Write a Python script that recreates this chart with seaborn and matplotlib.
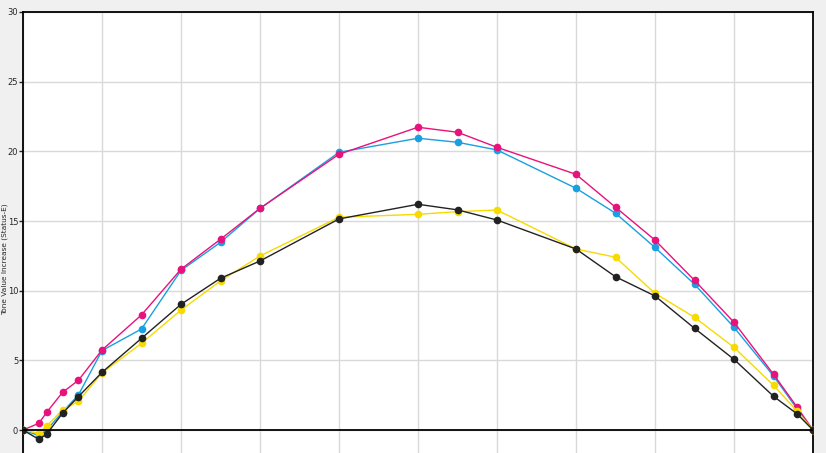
import pandas as pd
import seaborn as sns
import matplotlib.pyplot as plt

# Tone value (%) e aumento medido para cada canal
tone_values = [0, 2, 3, 5, 7, 10, 15, 20, 25, 30, 40, 50, 55, 60, 70, 75, 80, 85, 90, 95, 98, 100]

cyan = [0, -0.4, 0.0, 1.3, 2.5, 5.7, 7.25, 11.45, 13.47, 15.9, 19.93, 20.94, 20.65, 20.1,
        17.35, 15.56, 13.1, 10.46, 7.37, 3.88, 1.5, 0]
magenta = [0, 0.48, 1.27, 2.7, 3.56, 5.74, 8.26, 11.54, 13.69, 15.91, 19.79, 21.73, 21.37, 20.29,
           18.35, 15.99, 13.63, 10.74, 7.73, 4.0, 1.63, 0]
yellow = [0, -0.24, 0.29, 1.44, 2.05, 4.1, 6.22, 8.61, 10.7, 12.49, 15.27, 15.48, 15.67, 15.79,
          12.99, 12.4, 9.81, 8.09, 5.93, 3.21, 1.35, 0]
black = [0, -0.67, -0.29, 1.2, 2.39, 4.14, 6.58, 9.02, 10.89, 12.13, 15.15, 16.2, 15.8, 15.07,
         12.99, 11.0, 9.62, 7.3, 5.07, 2.42, 1.15, 0]

channels = ["Cyan", "Magenta", "Yellow", "Black"]
cores = {"Cyan": "#1a9fe0", "Magenta": "#e8127c", "Yellow": "#f7da00", "Black": "#222222"}

df = pd.concat([
    pd.DataFrame({"tone": tone_values, "tvi": vals, "canal": nome})
    for nome, vals in zip(channels, [cyan, magenta, yellow, black])
])

sns.set_style("white")
plt.rcParams["font.family"] = ["DejaVu Sans"]

fig = plt.figure(figsize=(8.26, 4.53), dpi=100, facecolor="#f0f0f0")
ax = fig.add_axes([23 / 826, 0, (813 - 23) / 826, 1 - 12 / 453])
ax.set_facecolor("white")

sns.lineplot(data=df, x="tone", y="tvi", hue="canal", hue_order=channels, palette=cores,
             marker="o", markersize=5.5, markeredgewidth=0, linewidth=1.0,
             legend=False, ax=ax, zorder=3)

ax.set_xlim(0, 100)
ax.set_ylim(-1.65, 30)
ax.set_xticks(range(0, 101, 10))
ax.set_yticks(range(0, 31, 5))
ax.grid(True, color="#d9d9d9", linewidth=1)
ax.axhline(0, color="black", linewidth=1.3, zorder=4)
ax.tick_params(axis="x", length=0, labelbottom=False)
ax.tick_params(axis="y", length=3, width=1, direction="out", left=True, labelsize=6, pad=0.5)
for lado in ["left", "top", "right"]:
    ax.spines[lado].set_color("black")
    ax.spines[lado].set_linewidth(1.3)
ax.spines["bottom"].set_visible(False)

ax.set_xlabel("")
ax.set_ylabel("Tone Value Increase (Status-E)", fontsize=5.3)
ax.yaxis.set_label_coords(-0.0195, 0.44)

fig.savefig("out.png", dpi=100, facecolor=fig.get_facecolor())
